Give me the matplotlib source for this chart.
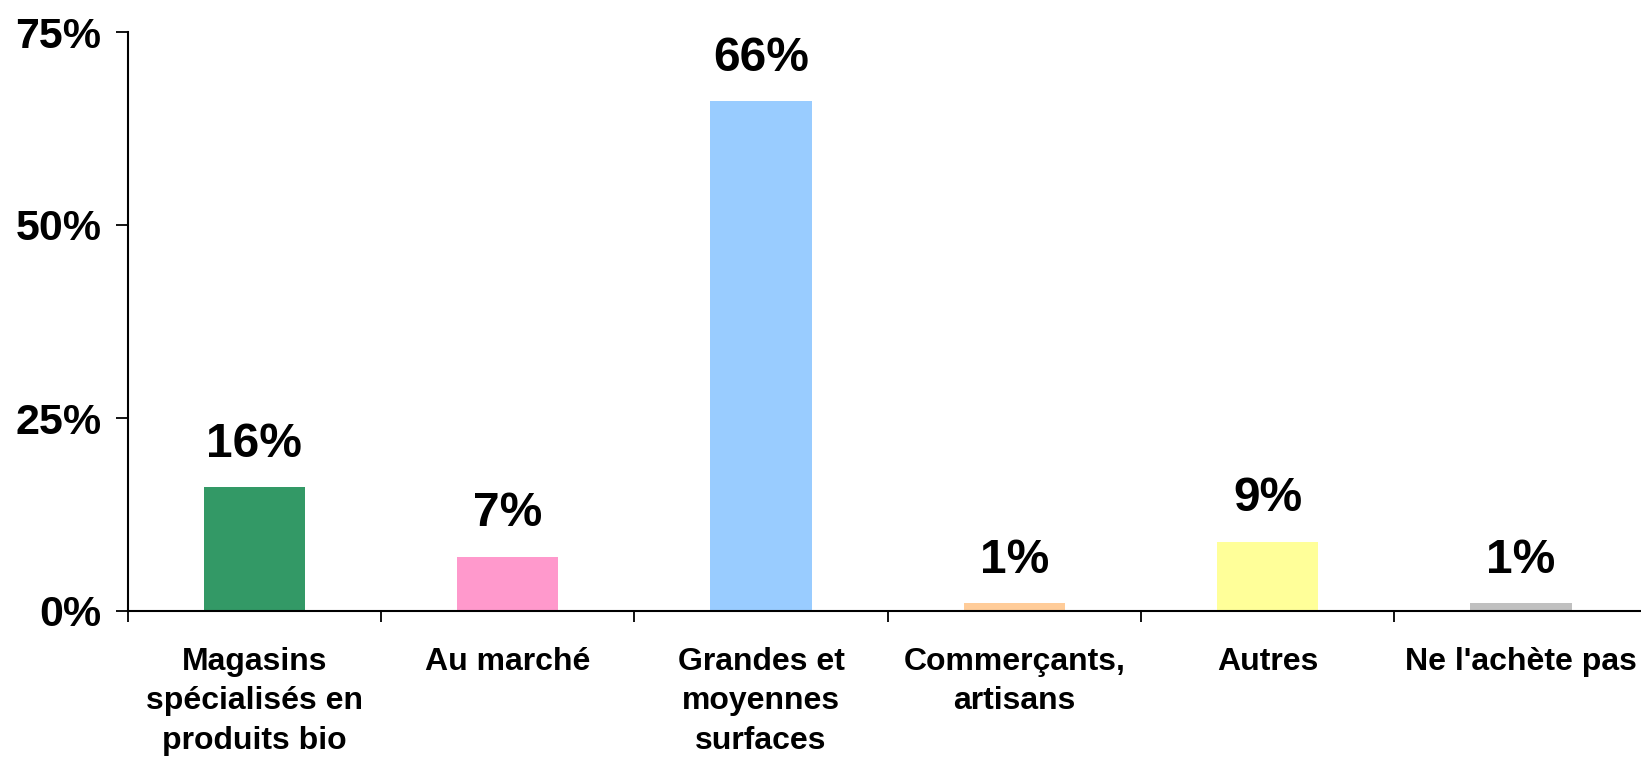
import matplotlib.pyplot as plt
import numpy as np

categories = ["Magasins\nspécialisés en\nproduits bio", "Au marché",
              "Grandes et\nmoyennes\nsurfaces", "Commerçants,\nartisans",
              "Autres", "Ne l'achète pas"]
values = [16, 7, 66, 1, 9, 1]
colors = ["#339966", "#FF99CC", "#99CCFF", "#FFCC99", "#FFFF99", "#C0C0C0"]
yticks = [0, 25, 50, 75]

plt.rcParams['font.family'] = ['Liberation Sans', 'DejaVu Sans']
plt.rcParams['font.weight'] = 'bold'

fig = plt.figure(figsize=(16.41, 7.6), dpi=100)
# axes run slightly past the right edge, as in the original
ax = fig.add_axes([127.7 / 1641, 149 / 760, 1520 / 1641, 579 / 760])

x = np.arange(len(categories))
ax.bar(x, values, width=0.40, color=colors)

for xi, v in zip(x, values):
    ax.annotate(f"{v}%", (xi, v), xytext=(0, 22), textcoords="offset points",
                ha="center", va="baseline", fontsize=34.5, fontweight="bold")

ax.set_xlim(-0.5, len(categories) - 0.5)
ax.set_ylim(0, 75)
ax.set_yticks(yticks)
ax.set_yticklabels([f"{t}%" for t in yticks], fontsize=31, fontweight="bold")
ax.set_xticks(np.arange(len(categories) + 1) - 0.5, minor=False)
ax.set_xticklabels([])
ax.set_xticks(x, minor=True)
ax.set_xticklabels(categories, minor=True, fontsize=23, fontweight="bold",
                   linespacing=1.4, va="top")
ax.tick_params(axis="x", which="minor", length=0, pad=26)
ax.tick_params(axis="x", which="major", length=8, width=1.3, direction="out")
ax.tick_params(axis="y", length=9, width=1.3, direction="out", pad=10)

for s in ["top", "right"]:
    ax.spines[s].set_visible(False)
for s in ["left", "bottom"]:
    ax.spines[s].set_linewidth(1.5)

fig.savefig("out.png", dpi=100)
